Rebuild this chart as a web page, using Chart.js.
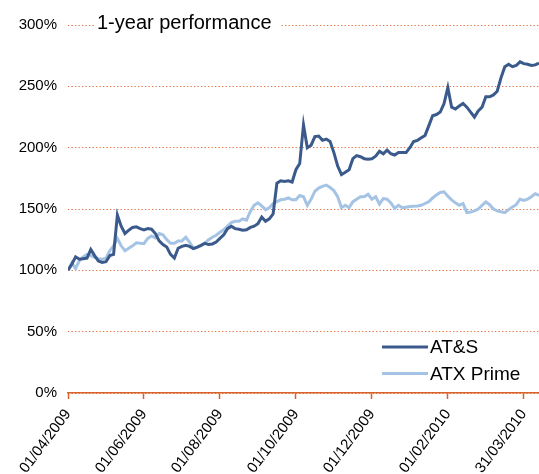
<!DOCTYPE html>
<html>
<head>
<meta charset="utf-8">
<script src="https://cdn.jsdelivr.net/npm/chart.js@4"></script>
<style>
html,body{margin:0;padding:0;background:#fff;}
canvas{display:block;}
</style>
</head>
<body>
<canvas id="c" width="539" height="474"></canvas>
<script>
// ---- data (samples, 01/04/2009 .. 31/03/2010) ----
const tickLabels = ["01/04/2009","01/06/2009","01/08/2009","01/10/2009","01/12/2009","01/02/2010","31/03/2010"];
const tickIndex = [0,20,40,60,80,100,120];
const yTicks = [0,50,100,150,200,250,300];

const atsValues = [
100,105,111,109,109.5,110,117,112,107.6,106.5,
107,112,113,145,136,130,132.7,135,135.5,134,
133,134,133.5,130,124,121,119,113,110,118,
119.5,120.4,119.5,117.7,119,120.4,122,121,121.5,123,
126,129,134,136,134,133.5,132.7,133,135,136,
138,143.5,140,142,146,171,173,172.5,173,172,
182,187,218.5,200,202,209,209.5,206,207,205,
196,185,178,180,182,191,193.5,192.6,191,190.5,
191,193,197,195,198,195,194,196,196,196,
200,205,206,208,210,218,226,227,229,236,
249,233,231.5,234,236,233,229,225,230,233,
241.5,241.5,243,246,257,266,268,266,267,270,
268.5,268,267,267.5,269
];

const atxValues = [
100,106,101.5,108,111,113,112,110.5,109.5,109,
110,116,120,126,120,116,118,120,122.5,122,
121.8,126,128,126.5,130,129,125,122,122,124,
124,127,123,118,118.5,120,122,125,127,128.6,
131,133,136,139,140,140,142,141,148,153,
155,152.5,149.5,151,154.5,156,157.5,158,159,157.5,
157.5,161,160,153,158,164.5,167,168.5,169.5,167.5,
165,160,151,153,151,156,158,160,160,162,
158,160,154,158.5,158,155,150.5,153,151,151.5,
152,152.3,152.5,153,154.5,156,159,161.5,163.5,164,
160.5,157.5,155,153,154.5,147,147.5,148.5,150,153,
155.8,153.5,150,148.5,147.7,147,149.5,151.7,153.5,158,
157,158,160,162.5,161
];

const seriesNames = ["AT&S","ATX Prime"];
const titleText = "1-year performance";

// ---- styles ----
const darkBlue = "#3B5A8C";
const lightBlue = "#A5C3E4";
const gridOrange = "#E2703F";
const axisOrange = "#D9622B";
const FONT = "'Liberation Sans', Arial, sans-serif";

const overlayPlugin = {
  id: 'overlay',
  beforeDatasetsDraw(chart) {
    const ctx = chart.ctx;
    ctx.save();
    ctx.fillStyle = '#fff';
    ctx.fillRect(94, 10, 187, 26);
    ctx.fillStyle = '#000';
    ctx.font = "20px " + FONT;
    ctx.textBaseline = 'alphabetic';
    ctx.textAlign = 'left';
    ctx.fillText(titleText, 97, 29);
    ctx.restore();
  },
  afterDraw(chart) {
    const ctx = chart.ctx;
    ctx.save();
    const items = [
      {name: seriesNames[0], color: darkBlue, y: 347},
      {name: seriesNames[1], color: lightBlue, y: 373.5}
    ];
    items.forEach(it => {
      ctx.strokeStyle = it.color;
      ctx.lineWidth = 3;
      ctx.beginPath();
      ctx.moveTo(382, it.y);
      ctx.lineTo(428, it.y);
      ctx.stroke();
      ctx.fillStyle = '#000';
      ctx.font = "19px " + FONT;
      ctx.textBaseline = 'middle';
      ctx.textAlign = 'left';
      ctx.fillText(it.name, 430, it.y + 1);
    });
    ctx.restore();
  }
};

new Chart(document.getElementById('c'), {
  type: 'line',
  data: {
    datasets: [
      {
        label: seriesNames[0],
        data: atsValues.map((v, i) => ({x: i, y: v})),
        borderColor: darkBlue,
        borderWidth: 3,
        pointRadius: 0,
        tension: 0,
        fill: false
      },
      {
        label: seriesNames[1],
        data: atxValues.map((v, i) => ({x: i, y: v})),
        borderColor: lightBlue,
        borderWidth: 3,
        pointRadius: 0,
        tension: 0,
        fill: false
      }
    ]
  },
  options: {
    responsive: false,
    animation: false,
    devicePixelRatio: 1,
    layout: {padding: {top: 25, right: 0, left: 0, bottom: 0}},
    plugins: {
      legend: {display: false},
      title: {display: false},
      tooltip: {enabled: false}
    },
    scales: {
      x: {
        type: 'linear',
        min: 0,
        max: atsValues.length - 1,
        afterBuildTicks(scale) {
          scale.ticks = tickIndex.map(v => ({value: v}));
        },
        afterFit(scale) {
          scale.height = 81;
          scale.paddingLeft = 0;
          scale.paddingRight = 0;
        },
        grid: {
          drawOnChartArea: false,
          drawTicks: true,
          tickLength: 6,
          tickColor: axisOrange,
          tickWidth: 1.5
        },
        border: {display: true, color: axisOrange, width: 1.5},
        ticks: {
          autoSkip: false,
          minRotation: 53,
          maxRotation: 53,
          padding: 7,
          color: '#000',
          font: {family: FONT, size: 15},
          callback(value) {
            const k = tickIndex.indexOf(value);
            return k >= 0 ? tickLabels[k] : '';
          }
        }
      },
      y: {
        min: 0,
        max: 300,
        afterBuildTicks(scale) {
          scale.ticks = yTicks.map(v => ({value: v}));
        },
        afterFit(scale) { scale.width = 68; },
        grid: {
          drawTicks: false,
          color: gridOrange,
          lineWidth: 1
        },
        border: {display: false, dash: [1.3, 2.2]},
        ticks: {
          padding: 11,
          color: '#000',
          font: {family: FONT, size: 15},
          callback(value) { return value + '%'; }
        }
      }
    }
  },
  plugins: [overlayPlugin]
});
</script>
</body>
</html>
